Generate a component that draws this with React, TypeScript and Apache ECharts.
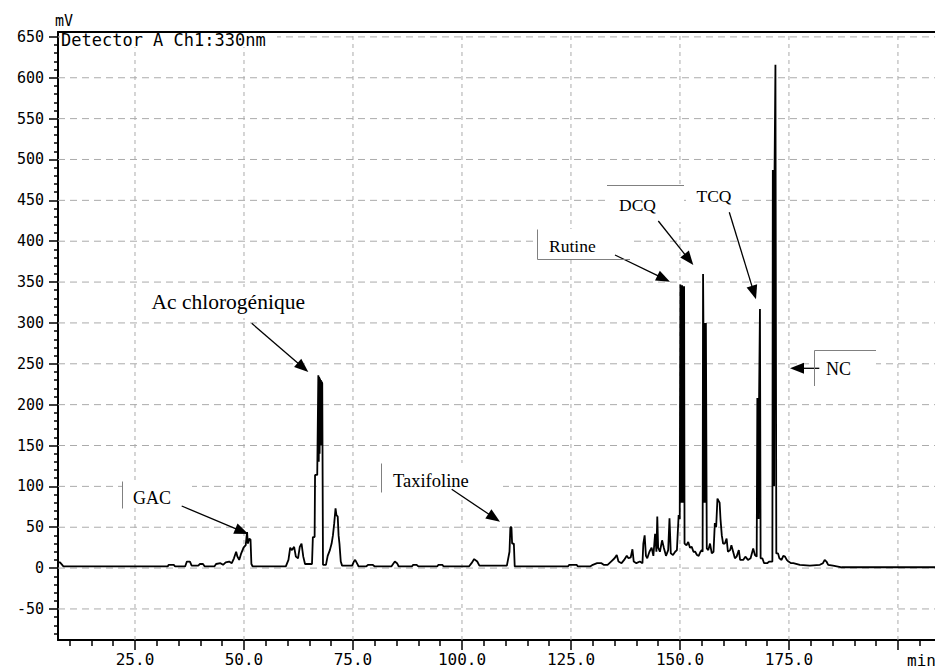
import React, { useEffect, useRef } from 'react';
import * as echarts from 'echarts';

// ---- axes ----
const xMin = 7.34;
const xMax = 208.5;
const yMin = -88;
const yMax = 656;
const xTickValues = [25, 50, 75, 100, 125, 150, 175, 200];
const xLabelValues = [25, 50, 75, 100, 125, 150, 175];
const xMinorValues = [10, 15, 20, 30, 35, 40, 45, 55, 60, 65, 70, 80, 85, 90, 95, 105, 110, 115, 120, 130, 135, 140, 145, 155, 160, 165, 170, 180, 185, 190, 195, 205];
const yTickValues = [-50, 0, 50, 100, 150, 200, 250, 300, 350, 400, 450, 500, 550, 600, 650];
const yMinorValues = [-80, -70, -60, -40, -30, -20, -10, 10, 20, 30, 40, 60, 70, 80, 90, 110, 120, 130, 140, 160, 170, 180, 190, 210, 220, 230, 240, 260, 270, 280, 290, 310, 320, 330, 340, 360, 370, 380, 390, 410, 420, 430, 440, 460, 470, 480, 490, 510, 520, 530, 540, 560, 570, 580, 590, 610, 620, 630, 640];

// ---- chromatogram (retention time in min, signal in mV) ----
const leadIn = [[7.34, 7], [7.8, 7], [8.3, 4], [8.6, 2], [32.5, 2], [32.7, 4], [33.9, 4], [34.2, 2], [36.5, 2], [36.9, 8], [37.6, 8], [38.0, 3], [39.5, 3], [39.9, 5], [40.6, 5], [41.0, 2], [43.2, 2], [43.6, 5], [44.6, 6], [45.2, 4], [45.8, 7], [46.6, 8], [47.2, 6]];
const gacRegion = [[47.7, 12], [48.2, 20], [48.5, 14], [48.9, 10], [49.3, 17], [49.9, 25], [50.4, 28], [50.7, 44], [50.9, 30], [51.2, 36], [51.5, 35], [51.7, 5], [52.0, 2]];
const chlorogenicRegion = [[59.6, 2], [60.2, 10], [60.6, 25], [61.0, 22], [61.5, 26], [61.9, 14], [62.4, 12], [62.8, 26], [63.2, 30], [63.6, 14], [64.0, 5], [65.6, 5], [65.8, 38], [66.2, 38], [66.3, 114], [66.8, 114], [67.05, 236], [67.15, 130], [67.25, 234], [67.35, 140], [67.45, 232], [67.55, 150], [67.65, 230], [67.75, 150], [67.85, 228], [67.95, 226], [68.05, 226], [68.12, 4], [68.8, 4], [69.2, 15], [69.7, 22], [70.1, 30], [70.4, 40], [70.7, 55], [71.0, 73], [71.2, 65], [71.5, 63], [71.7, 40], [71.9, 30], [72.2, 8], [72.5, 3], [74.8, 3], [75.2, 8], [75.5, 10], [75.9, 6], [76.3, 2]];
const taxifolinRegion = [[78.0, 2], [78.5, 4], [79.5, 4], [80.0, 2], [83.8, 2], [84.2, 5], [84.6, 8], [85.1, 6], [85.5, 2], [88.5, 2], [88.8, 4], [89.6, 4], [90.0, 2], [94.3, 2], [94.6, 4], [95.5, 4], [95.8, 2], [101.6, 2], [102.2, 6], [102.8, 11], [103.5, 8], [104.0, 3], [110.3, 3], [110.9, 20], [111.1, 50], [111.35, 50], [111.5, 30], [111.9, 30], [112.1, 2]];
const clusterRegion = [[124.3, 2], [124.6, 4], [126.3, 4], [126.6, 2], [129.4, 2], [130.0, 4], [131.0, 6], [132.0, 6], [132.5, 4], [133.4, 4], [134.2, 8], [135.0, 12], [135.5, 16], [135.9, 8], [136.6, 6], [137.2, 10], [137.8, 15], [138.2, 12], [138.7, 13], [139.1, 23], [139.4, 8], [140.0, 6], [140.8, 8], [141.4, 6], [141.6, 30], [141.9, 40], [142.2, 15], [142.5, 12], [143.0, 20], [143.5, 25], [143.9, 15], [144.3, 42], [144.6, 20], [144.8, 63], [145.0, 25], [145.4, 20], [145.9, 34], [146.3, 25], [146.8, 15], [147.3, 22], [147.6, 61], [147.9, 18], [148.4, 16], [148.9, 20], [149.3, 22], [149.7, 65], [149.95, 60]];
const rutinRegion = [[150.1, 347], [150.2, 80], [150.3, 346], [150.4, 80], [150.5, 346], [150.6, 80], [150.7, 345], [150.8, 80], [150.95, 345], [151.05, 30], [151.5, 28], [151.9, 32], [152.3, 25], [152.7, 26], [153.1, 20], [153.5, 20], [153.9, 16], [154.3, 15], [154.7, 20], [155.0, 22], [155.2, 20]];
const dcqRegion = [[155.3, 360], [155.38, 300], [155.45, 80], [155.55, 300], [155.65, 80], [155.75, 300], [155.85, 80], [155.95, 300], [156.05, 300], [156.15, 24], [156.5, 22], [156.9, 30], [157.3, 18], [157.7, 20], [158.0, 55], [158.3, 50], [158.6, 85], [158.9, 82], [159.1, 80], [159.3, 60], [159.6, 40], [159.9, 30], [160.3, 30], [160.7, 36], [161.0, 20], [161.5, 22], [161.8, 28], [162.2, 20], [162.6, 12], [163.0, 14], [163.5, 22], [163.8, 10], [164.5, 10], [165.0, 14], [165.6, 10], [166.2, 12], [166.8, 24], [167.2, 16], [167.6, 14]];
const tcqRegion = [[167.7, 14], [167.75, 208], [167.85, 60], [167.95, 208], [168.05, 60], [168.15, 208], [168.3, 208], [168.35, 317], [168.45, 317], [168.5, 12], [168.9, 12], [169.3, 6], [170.0, 6], [170.5, 8], [171.0, 8], [171.2, 8]];
const ncRegion = [[171.3, 487], [171.4, 100], [171.5, 487], [171.6, 100], [171.7, 487], [171.8, 487], [171.9, 616], [172.0, 616], [172.1, 18], [172.5, 18], [172.8, 12], [173.3, 10], [173.7, 15], [174.1, 14], [174.5, 10], [174.9, 8], [175.5, 6], [176.0, 6], [177.5, 4], [179.8, 3], [182.1, 4], [182.8, 6], [183.2, 10], [183.6, 8], [184.0, 4], [185.1, 3], [187.1, 1], [208.5, 1]];

const peakNames = ['Ac chlorogénique', 'GAC', 'Taxifoline', 'Rutine', 'DCQ', 'TCQ', 'NC'];

const MONO = '"DejaVu Sans Mono", monospace';
const SERIF = '"Liberation Serif", "Times New Roman", serif';

function arrow(x1: number, y1: number, x2: number, y2: number) {
  const dx = x2 - x1, dy = y2 - y1;
  const len = Math.hypot(dx, dy);
  const ux = dx / len, uy = dy / len;
  const hl = 14, hw = 5.5;
  const bx = x2 - ux * hl, by = y2 - uy * hl;
  return [
    { type: 'line', z: 100, shape: { x1, y1, x2: bx + ux * 2, y2: by + uy * 2 }, style: { stroke: '#000', lineWidth: 1.3 } },
    { type: 'polygon', z: 100, shape: { points: [[x2, y2], [bx - uy * hw, by + ux * hw], [bx + uy * hw, by - ux * hw]] }, style: { fill: '#000' } },
  ];
}

function grayLine(x1: number, y1: number, x2: number, y2: number) {
  return { type: 'line', z: 101, shape: { x1, y1, x2, y2 }, style: { stroke: '#808080', lineWidth: 1 } };
}

function whiteBox(x: number, y: number, width: number, height: number) {
  return { type: 'rect', z: 99, shape: { x, y, width, height }, style: { fill: '#fff' } };
}

function label(text: string, x: number, y: number, size: number) {
  return { type: 'text', z: 102, style: { text, x, y, fill: '#000', fontFamily: SERIF, fontSize: size, align: 'left', verticalAlign: 'middle' } };
}

export default function App() {
  const ref = useRef<HTMLDivElement>(null);
  useEffect(() => {
    const el = ref.current!;
    const chart = echarts.init(el, null, { renderer: 'svg' });
    const trace = [...leadIn, ...gacRegion, ...chlorogenicRegion, ...taxifolinRegion, ...clusterRegion, ...rutinRegion, ...dcqRegion, ...tcqRegion, ...ncRegion];

    const graphic: any[] = [
      whiteBox(140, 287, 168, 31),
      whiteBox(122, 482, 70, 26),
      whiteBox(382, 463, 121, 34),
      whiteBox(537, 229, 93, 30),
      whiteBox(607, 185, 77, 37),
      whiteBox(686, 178, 56, 32),
      whiteBox(814, 350, 62, 36),
      whiteBox(60, 33, 217, 14),
      grayLine(122.5, 481.5, 122.5, 508.5),
      grayLine(381.5, 463.5, 381.5, 492.5),
      grayLine(537.5, 229.5, 537.5, 259.5),
      grayLine(537.5, 259.5, 630, 259.5),
      grayLine(607, 185.5, 684, 185.5),
      grayLine(814.5, 350.5, 876, 350.5),
      grayLine(814.5, 350.5, 814.5, 386),
      label(peakNames[0], 151.5, 302, 21.5),
      label(peakNames[1], 133, 498, 18),
      label(peakNames[2], 393, 481, 18.5),
      label(peakNames[3], 549, 246, 17.5),
      label(peakNames[4], 619, 204.5, 17.5),
      label(peakNames[5], 696.5, 196, 17.5),
      label(peakNames[6], 826, 368.7, 18),
      ...arrow(251.7, 323.3, 308.3, 372),
      ...arrow(181.7, 506, 248.3, 534),
      ...arrow(451.7, 489.3, 500, 521.7),
      ...arrow(615, 255, 670, 281.7),
      ...arrow(658.3, 221, 693.3, 265),
      ...arrow(729.3, 212.3, 756, 299.3),
      ...arrow(819.3, 368.3, 790, 368.3),
      { type: 'text', z: 102, style: { text: 'Detector A Ch1:330nm', x: 61, y: 40, fill: '#000', fontFamily: MONO, fontSize: 17, align: 'left', verticalAlign: 'middle' } },
      { type: 'text', z: 102, style: { text: 'mV', x: 64, y: 21, fill: '#000', fontFamily: MONO, fontSize: 15, align: 'center', verticalAlign: 'middle' } },
      { type: 'text', z: 102, style: { text: 'min', x: 907, y: 660, fill: '#000', fontFamily: MONO, fontSize: 16, align: 'left', verticalAlign: 'middle' } },
    ];

    const xGridStyle = { color: '#ababab', width: 1, type: [4, 4] };
    const yGridStyle = { color: '#ababab', width: 1, type: [7, 5] };
    const gridSeries = [
      ...xTickValues.map((v) => ({ v, pts: [[v, yMin], [v, yMax]], style: xGridStyle })),
      ...yTickValues.map((v) => ({ v, pts: [[xMin, v], [xMax, v]], style: yGridStyle })),
    ].map((g) => ({
      type: 'line',
      data: g.pts,
      showSymbol: false,
      symbol: 'none',
      silent: true,
      z: 1,
      lineStyle: g.style,
      tooltip: { show: false },
    }));

    chart.setOption({
      animation: false,
      backgroundColor: '#fff',
      grid: { left: 58, right: 0, top: 32, bottom: 28, containLabel: false },
      xAxis: [
        {
          type: 'value', min: xMin, max: xMax, position: 'bottom',
          axisLine: { show: true, onZero: false, lineStyle: { color: '#000', width: 2 } },
          axisTick: { show: true, customValues: xTickValues, length: 10, lineStyle: { color: '#000', width: 1.5 } },
          axisLabel: { show: true, customValues: xLabelValues, formatter: (v: number) => v.toFixed(1), margin: 11, fontFamily: MONO, fontSize: 16, color: '#000' },
          splitLine: { show: false },
        },
        {
          type: 'value', min: xMin, max: xMax, position: 'bottom',
          axisLine: { show: false, onZero: false },
          axisTick: { show: true, customValues: xMinorValues, length: 6, lineStyle: { color: '#000', width: 1.5 } },
          axisLabel: { show: false },
          splitLine: { show: false },
        },
        {
          type: 'value', min: xMin, max: xMax, position: 'top',
          axisLine: { show: true, onZero: false, lineStyle: { color: '#000', width: 2 } },
          axisTick: { show: false },
          axisLabel: { show: false },
          splitLine: { show: false },
        },
      ],
      yAxis: [
        {
          type: 'value', min: yMin, max: yMax, position: 'left',
          axisLine: { show: true, onZero: false, lineStyle: { color: '#000', width: 2 } },
          axisTick: { show: true, customValues: yTickValues, length: 9, lineStyle: { color: '#000', width: 1.5 } },
          axisLabel: { show: true, customValues: yTickValues, margin: 14, fontFamily: MONO, fontSize: 15, color: '#000' },
          splitLine: { show: false },
        },
        {
          type: 'value', min: yMin, max: yMax, position: 'left',
          axisLine: { show: false, onZero: false },
          axisTick: { show: true, customValues: yMinorValues, length: 4, lineStyle: { color: '#000', width: 1.5 } },
          axisLabel: { show: false },
          splitLine: { show: false },
        },
      ],
      series: [
        ...gridSeries,
        {
          type: 'line',
          name: 'Detector A Ch1:330nm',
          xAxisIndex: 0,
          yAxisIndex: 0,
          data: trace,
          showSymbol: false,
          symbol: 'none',
          lineStyle: { color: '#000', width: 1.8 },
          clip: true,
          z: 5,
        },
      ],
      graphic,
    });
    return () => chart.dispose();
  }, []);

  return <div ref={ref} style={{ position: 'fixed', left: 0, top: 0, width: 935, height: 668, background: '#fff' }} />;
}
